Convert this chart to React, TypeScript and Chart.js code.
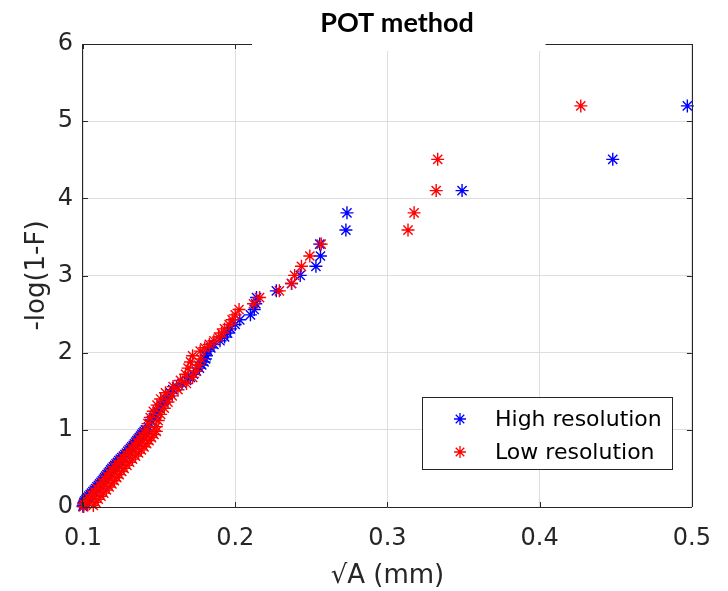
import React, { useEffect, useRef } from "react";
import { Chart, registerables } from "chart.js";

Chart.register(...registerables);

// -log(1-F) levels (shared ordinate of both empirical distributions)
const probabilityLevels = [
  0.006, 0.02, 0.04, 0.06, 0.08, 0.10, 0.12, 0.14, 0.16, 0.18,
  0.20, 0.22, 0.24, 0.26, 0.28, 0.30, 0.32, 0.34, 0.36, 0.38,
  0.40, 0.42, 0.44, 0.46, 0.48, 0.50, 0.52, 0.54, 0.56, 0.58,
  0.60, 0.62, 0.64, 0.66, 0.68, 0.70, 0.72, 0.74, 0.76, 0.78,
  0.80, 0.82, 0.84, 0.86, 0.88, 0.90, 0.92, 0.94, 0.96, 0.98,
  1.00,
  1.04, 1.08, 1.12, 1.16, 1.20, 1.24, 1.28, 1.32, 1.36, 1.40,
  1.44, 1.48, 1.52, 1.56, 1.60, 1.64, 1.68, 1.72, 1.76, 1.80,
  1.84, 1.88, 1.92, 1.96,
  2.02, 2.063, 2.107, 2.154, 2.203, 2.254, 2.308, 2.365, 2.426, 2.49,
  2.559, 2.634, 2.714, 2.801, 2.896, 3.001, 3.119, 3.253, 3.407, 3.589,
  3.812, 4.1, 4.505, 5.198,
];

// sqrt(A) in mm, high resolution
const highResSqrtArea = [
  0.1000, 0.1002, 0.1004, 0.1006, 0.1012, 0.1020, 0.1029, 0.1038, 0.1047, 0.1056,
  0.1065, 0.1074, 0.1083, 0.1092, 0.1101, 0.1110, 0.1118, 0.1126, 0.1134, 0.1142,
  0.1150, 0.1158, 0.1166, 0.1174, 0.1182, 0.1190, 0.1199, 0.1208, 0.1217, 0.1226,
  0.1235, 0.1245, 0.1255, 0.1265, 0.1275, 0.1285, 0.1294, 0.1303, 0.1312, 0.1321,
  0.1330, 0.1338, 0.1346, 0.1354, 0.1362, 0.1370, 0.1378, 0.1386, 0.1394, 0.1402,
  0.1410,
  0.1430, 0.1440, 0.1450, 0.1462, 0.1475, 0.1488, 0.1500, 0.1515, 0.1530, 0.1545,
  0.1560, 0.1575, 0.1590, 0.1615, 0.1650, 0.1680, 0.1705, 0.1725, 0.1745, 0.1765,
  0.1780, 0.1795, 0.1805, 0.1810,
  0.1820, 0.1840, 0.1860, 0.1900, 0.1930, 0.1950, 0.1970, 0.2000, 0.2030, 0.2100,
  0.2125, 0.2135, 0.2140, 0.2270, 0.2370, 0.2427, 0.2530, 0.2560, 0.2555, 0.2727,
  0.2734, 0.3490, 0.4480, 0.4970,
];

// sqrt(A) in mm, low resolution
const lowResSqrtArea = [
  0.1005, 0.1068, 0.1006, 0.1084, 0.1022, 0.1100, 0.1039, 0.1118, 0.1057, 0.1136,
  0.1075, 0.1154, 0.1093, 0.1172, 0.1111, 0.1190, 0.1128, 0.1206, 0.1144, 0.1222,
  0.1160, 0.1238, 0.1176, 0.1254, 0.1192, 0.1270, 0.1209, 0.1288, 0.1227, 0.1306,
  0.1245, 0.1325, 0.1265, 0.1345, 0.1285, 0.1365, 0.1304, 0.1383, 0.1322, 0.1401,
  0.1340, 0.1418, 0.1356, 0.1434, 0.1372, 0.1450, 0.1388, 0.1466, 0.1404, 0.1482,
  0.1420,
  0.1481, 0.1427, 0.1494, 0.1442, 0.1510, 0.1462, 0.1534, 0.1486, 0.1558, 0.1510,
  0.1586, 0.1542, 0.1624, 0.1592, 0.1680, 0.1640, 0.1720, 0.1674, 0.1742, 0.1690,
  0.1758, 0.1706, 0.1774, 0.1720,
  0.1770, 0.1800, 0.1830, 0.1860, 0.1890, 0.1910, 0.1930, 0.1960, 0.1980, 0.2000,
  0.2025, 0.2120, 0.2160, 0.2290, 0.2370, 0.2390, 0.2435, 0.2490, 0.2565, 0.3135,
  0.3175, 0.3320, 0.3330, 0.4270,
];

const xTickValues = [0.1, 0.2, 0.3, 0.4, 0.5];
const yTickValues = [0, 1, 2, 3, 4, 5, 6];
const seriesNames = ["High resolution", "Low resolution"];
const seriesColors = ["#0000ff", "#ff0000"];
const chartTitle = "POT method";
const xAxisLabel = "\u221AA (mm)";
const yAxisLabel = "-log(1-F)";

const AXIS_COLOR = "#262626";
const FONT = '"DejaVu Sans", sans-serif';

function drawStar(ctx: CanvasRenderingContext2D, x: number, y: number, r: number, color: string) {
  ctx.save();
  ctx.strokeStyle = color;
  ctx.lineWidth = 1.3;
  ctx.beginPath();
  const d = r * Math.SQRT1_2;
  ctx.moveTo(x - r, y); ctx.lineTo(x + r, y);
  ctx.moveTo(x, y - r); ctx.lineTo(x, y + r);
  ctx.moveTo(x - d, y - d); ctx.lineTo(x + d, y + d);
  ctx.moveTo(x - d, y + d); ctx.lineTo(x + d, y - d);
  ctx.stroke();
  ctx.restore();
}

const matlabFrame = {
  id: "matlabFrame",
  afterDatasetsDraw(chart: any) {
    const { ctx, chartArea } = chart;
    const { left, right, top, bottom } = chartArea;
    const xs = chart.scales.x;
    const ys = chart.scales.y;
    const tick = 5;
    ctx.save();
    ctx.strokeStyle = AXIS_COLOR;
    ctx.lineWidth = 1;
    ctx.beginPath();
    ctx.moveTo(left, Math.round(top) + 0.5);
    ctx.lineTo(right, Math.round(top) + 0.5);
    ctx.moveTo(Math.round(right) + 0.5, top);
    ctx.lineTo(Math.round(right) + 0.5, bottom);
    ctx.moveTo(Math.round(left) - 0.5, top);
    ctx.lineTo(Math.round(left) - 0.5, bottom);
    ctx.moveTo(left, Math.round(bottom) + 0.5);
    ctx.lineTo(right, Math.round(bottom) + 0.5);
    xTickValues.forEach((v) => {
      const px = Math.round(xs.getPixelForValue(v)) + 0.5;
      ctx.moveTo(px, bottom); ctx.lineTo(px, bottom - tick);
      ctx.moveTo(px, top); ctx.lineTo(px, top + tick);
    });
    yTickValues.forEach((v) => {
      const py = Math.round(ys.getPixelForValue(v)) + 0.5;
      ctx.moveTo(left, py); ctx.lineTo(left + tick, py);
      ctx.moveTo(right, py); ctx.lineTo(right - tick, py);
    });
    ctx.stroke();

    // title backdrop + title
    ctx.fillStyle = "#ffffff";
    ctx.fillRect(252, 0, 293.5, 51);
    ctx.fillStyle = "#000000";
    ctx.font = 'bold 27px Lato, "Liberation Sans", sans-serif';
    ctx.textAlign = "center";
    ctx.textBaseline = "alphabetic";
    ctx.fillText(chartTitle, 397, 32);

    // legend
    const lx = 422.5, ly = 397.5, lw = 250, lh = 72;
    ctx.fillStyle = "#ffffff";
    ctx.fillRect(lx, ly, lw, lh);
    ctx.strokeStyle = AXIS_COLOR;
    ctx.strokeRect(lx, ly, lw, lh);
    ctx.font = `22px ${FONT}`;
    ctx.textAlign = "left";
    ctx.textBaseline = "middle";
    seriesNames.forEach((name, i) => {
      const cy = 419 + i * 33;
      drawStar(ctx, 460, cy, 6, seriesColors[i]);
      ctx.fillStyle = "#000000";
      ctx.fillText(name, 495, cy + 1);
    });
    ctx.restore();
  },
};

export default function App() {
  const canvasRef = useRef<HTMLCanvasElement | null>(null);

  useEffect(() => {
    const canvas = canvasRef.current;
    if (!canvas) return;
    const makeData = (xs: number[]) => probabilityLevels.map((y, i) => ({ x: xs[i], y }));
    // higher "order" is drawn first (underneath): low resolution ends up on top
    const makeSet = (i: number, xs: number[], order: number) => ({
      label: seriesNames[i],
      data: makeData(xs),
      order,
      pointStyle: "star",
      pointRadius: 6.5,
      pointBorderWidth: 1.4,
      borderColor: seriesColors[i],
      backgroundColor: seriesColors[i],
      clip: false,
    });
    const chart = new Chart(canvas, {
      type: "scatter",
      data: {
        datasets: [makeSet(0, highResSqrtArea, 2), makeSet(1, lowResSqrtArea, 1)] as any,
      },
      options: {
        responsive: false,
        animation: false,
        devicePixelRatio: 1,
        events: [],
        layout: { padding: { top: 44, right: 30, bottom: 0, left: 0 } },
        plugins: {
          legend: { display: false },
          title: { display: false },
          tooltip: { enabled: false },
        },
        scales: {
          x: {
            type: "linear",
            min: 0.1,
            max: 0.5,
            afterBuildTicks: (s: any) => { s.ticks = xTickValues.map((v) => ({ value: v })); },
            afterFit: (s: any) => { s.height = 84; },
            grid: { color: "#dedede", lineWidth: 1, drawTicks: false },
            border: { display: false },
            ticks: {
              padding: 17,
              color: AXIS_COLOR,
              font: { family: FONT, size: 24 },
              maxRotation: 0,
              callback: (v: any) => Number(v).toFixed(1),
            },
            title: {
              display: true,
              text: xAxisLabel,
              color: AXIS_COLOR,
              font: { family: FONT, size: 26, lineHeight: 1.1 },
              padding: { top: 0, bottom: 0 },
            },
          },
          y: {
            type: "linear",
            min: 0,
            max: 6,
            afterBuildTicks: (s: any) => { s.ticks = yTickValues.map((v) => ({ value: v })); },
            afterFit: (s: any) => { s.width = 83; },
            grid: { color: "#dedede", lineWidth: 1, drawTicks: false },
            border: { display: false },
            ticks: {
              padding: 10,
              color: AXIS_COLOR,
              font: { family: FONT, size: 24 },
              callback: (v: any) => String(v),
            },
            title: {
              display: true,
              text: yAxisLabel,
              color: AXIS_COLOR,
              font: { family: FONT, size: 26, lineHeight: 1.2 },
              padding: { top: 22, bottom: 0 },
            },
          },
        },
      },
      plugins: [matlabFrame],
    });
    return () => chart.destroy();
  }, []);

  return (
    <div style={{ position: "fixed", left: 0, top: 0, width: 728, height: 591, background: "#fff" }}>
      <canvas ref={canvasRef} width={728} height={591} style={{ width: 728, height: 591, display: "block" }} />
    </div>
  );
}
